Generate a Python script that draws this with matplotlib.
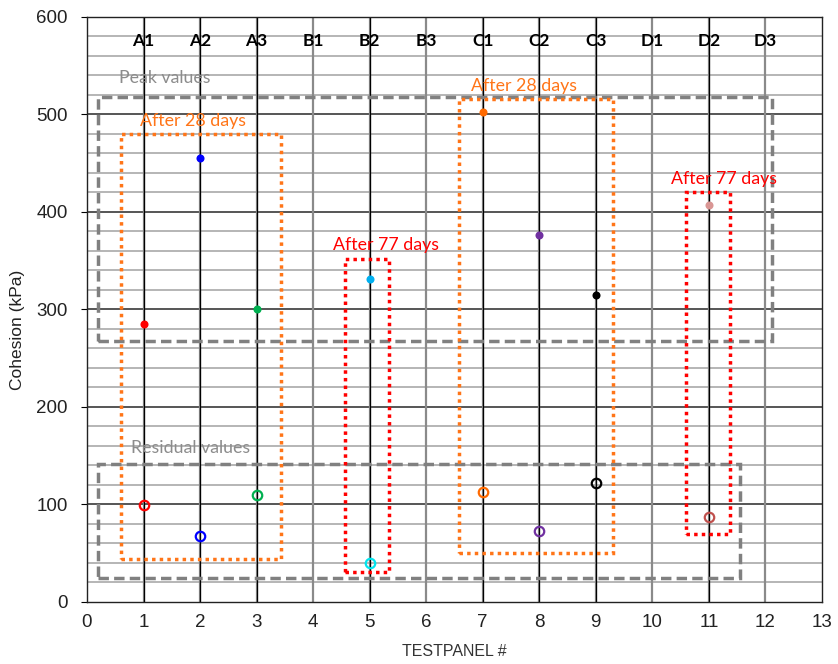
import matplotlib
matplotlib.use("Agg")
import matplotlib.pyplot as plt
from matplotlib.patches import Rectangle

# ---- data ----
panel_labels = ["A1", "A2", "A3", "B1", "B2", "B3", "C1", "C2", "C3", "D1", "D2", "D3"]
panel_x = [1, 2, 3, 4, 5, 6, 7, 8, 9, 10, 11, 12]
test_x = [1, 2, 3, 5, 7, 8, 9, 11]
peak = [285, 455, 300, 331, 503, 376, 315, 407]
residual = [99, 68, 110, 40, 113, 73, 122, 87]
peak_colors = ["#ff0000", "#0000ff", "#00b050", "#00b0f0", "#ff6a00", "#7030a0", "#000000", "#d99694"]
resid_colors = ["#ff0000", "#0000ff", "#00b050", "#00e5ee", "#ff6a00", "#7030a0", "#000000", "#c0504d"]

# boxes: (x0, x1, y0, y1)
peak_box = (0.2, 12.12, 268, 518)
resid_box = (0.2, 11.55, 25, 142)
box28_a = (0.6, 3.43, 44, 480)
box28_c = (6.58, 9.31, 50, 516)
box77_b = (4.57, 5.35, 31, 352)
box77_d = (10.6, 11.38, 70, 420)

annot_font = ["Lato", "DejaVu Sans"]
tick_font = ["Liberation Sans", "DejaVu Sans"]

fig = plt.figure(figsize=(8.38, 6.64), dpi=100)
ax = fig.add_axes([0.1038, 0.0934, 0.877, 0.881])
ax.set_xlim(0, 13)
ax.set_ylim(0, 600)

# grid
ax.set_xticks(range(0, 14))
ax.set_yticks(range(0, 601, 100))
ax.set_yticks(range(0, 601, 20), minor=True)
for yv in range(20, 600, 20):
    if yv % 100 == 0:
        ax.axhline(yv, color="#555555", lw=1.4, zorder=1)
    else:
        ax.axhline(yv, color="#b5b5b5", lw=1.4, zorder=1)
for xv in panel_x:
    ax.axvline(xv, color="#8a8a8a", lw=1.6, zorder=1)
for xv in test_x:
    ax.axvline(xv, color="#000000", lw=0.9, zorder=1.5)

ax.tick_params(axis="both", which="major", labelsize=13.5, length=4, color="black",
               labelcolor="#222222")
ax.tick_params(axis="y", which="minor", length=0)
ax.tick_params(axis="y", which="major", pad=10)
ax.tick_params(axis="x", length=0, pad=9)
for lab in ax.get_xticklabels() + ax.get_yticklabels():
    lab.set_fontfamily(tick_font)
for sp in ax.spines.values():
    sp.set_color("#222222")
    sp.set_linewidth(1.0)

ax.set_xlabel("TESTPANEL #", fontsize=11.5, family=tick_font, color="#333333", labelpad=9)
ax.set_ylabel("Cohesion (kPa)", fontsize=12.5, family=tick_font, color="#222222")
ax.yaxis.set_label_coords(-0.085, 0.465)

# panel labels at top
for lbl, xv in zip(panel_labels, panel_x):
    ax.text(xv, 575, lbl, ha="center", va="center", fontsize=12.5, fontweight="bold",
            family=annot_font, color="black", zorder=5)

def draw_box(b, color, ls, lw):
    x0, x1, y0, y1 = b
    ax.add_patch(Rectangle((x0, y0), x1 - x0, y1 - y0, fill=False, edgecolor=color,
                           linestyle=ls, linewidth=lw, zorder=3))

draw_box(peak_box, "#808080", (0, (3, 1.5)), 2.5)
draw_box(resid_box, "#808080", (0, (3, 1.5)), 2.5)
draw_box(box28_a, "#ff7518", (0, (1, 1.2)), 2.5)
draw_box(box28_c, "#ff7518", (0, (1, 1.2)), 2.5)
draw_box(box77_b, "#ff0000", (0, (1, 1.2)), 2.5)
draw_box(box77_d, "#ff0000", (0, (1, 1.2)), 2.5)

fs_ann = 12.8
ax.text(0.57, 537, "Peak values", fontsize=fs_ann, color="#8c8c8c", family=annot_font,
        ha="left", va="center", zorder=5)
ax.text(0.78, 158, "Residual values", fontsize=fs_ann, color="#8c8c8c", family=annot_font,
        ha="left", va="center", zorder=5)
ax.text(0.93, 493, "After 28 days", fontsize=fs_ann, color="#ff7518", family=annot_font,
        ha="left", va="center", zorder=5)
ax.text(6.8, 529, "After 28 days", fontsize=fs_ann, color="#ff7518", family=annot_font,
        ha="left", va="center", zorder=5)
ax.text(4.35, 366, "After 77 days", fontsize=fs_ann, color="#ff0000", family=annot_font,
        ha="left", va="center", zorder=5)
ax.text(10.33, 434, "After 77 days", fontsize=fs_ann, color="#ff0000", family=annot_font,
        ha="left", va="center", zorder=5)

# points
for xv, yv, c in zip(test_x, peak, peak_colors):
    ax.plot(xv, yv, "o", color=c, markersize=5.8, markeredgewidth=0, zorder=6)
for xv, yv, c in zip(test_x, residual, resid_colors):
    ax.plot(xv, yv, "o", markerfacecolor="none", markeredgecolor=c, markersize=6.8,
            markeredgewidth=1.6, zorder=6)

fig.savefig("out.png", dpi=100)
